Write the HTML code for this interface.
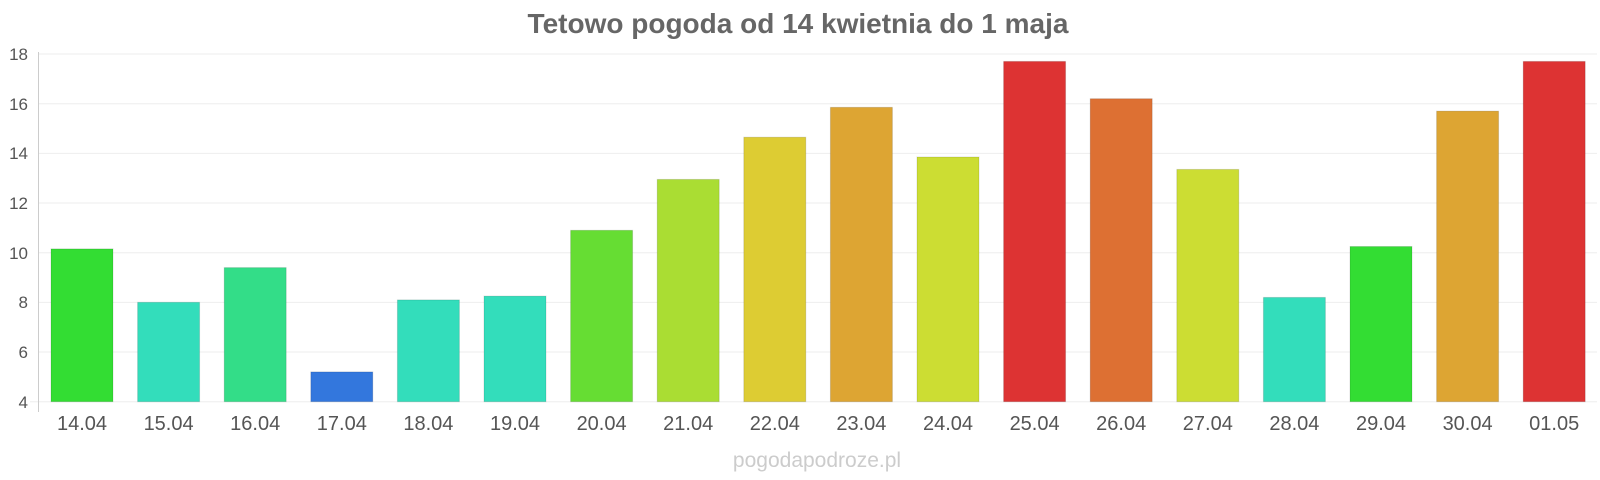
<!DOCTYPE html>
<html><head><meta charset="utf-8"><style>
html,body{margin:0;padding:0;background:#fff;width:1600px;height:480px;overflow:hidden}
svg{display:block;font-family:"Liberation Sans",sans-serif}
</style></head><body>
<svg width="1600" height="480" viewBox="0 0 1600 480">
<text x="798" y="33" text-anchor="middle" font-size="28" font-weight="bold" fill="#666">Tetowo pogoda od 14 kwietnia do 1 maja</text>
<g stroke="#eee" stroke-width="1">
<line x1="38" x2="1597" y1="54" y2="54"/>
<line x1="38" x2="1597" y1="103.7" y2="103.7"/>
<line x1="38" x2="1597" y1="153.4" y2="153.4"/>
<line x1="38" x2="1597" y1="203" y2="203"/>
<line x1="38" x2="1597" y1="252.7" y2="252.7"/>
<line x1="38" x2="1597" y1="302.4" y2="302.4"/>
<line x1="38" x2="1597" y1="352" y2="352"/>
<line x1="30" x2="1597" y1="401.7" y2="401.7"/>
</g>
<line x1="38.5" x2="38.5" y1="52" y2="412" stroke="#ccc"/>
<g font-size="17" fill="#555" text-anchor="end">
<text x="28" y="60">18</text><text x="28" y="110">16</text><text x="28" y="159">14</text><text x="28" y="209">12</text><text x="28" y="259">10</text><text x="28" y="308">8</text><text x="28" y="358">6</text><text x="28" y="408">4</text>
</g>
<g stroke="rgba(0,0,0,0.12)" stroke-width="1">
<rect x="51" y="248.9" width="62" height="152.8" fill="#33dd33"/>
<rect x="137.6" y="302.3" width="62" height="99.4" fill="#33ddbb"/>
<rect x="224.2" y="267.6" width="62" height="134.1" fill="#33dd88"/>
<rect x="310.8" y="371.9" width="62" height="29.8" fill="#3377dd"/>
<rect x="397.4" y="299.9" width="62" height="101.8" fill="#33ddbb"/>
<rect x="484" y="296.1" width="62" height="105.6" fill="#33ddbb"/>
<rect x="570.6" y="230.3" width="62" height="171.4" fill="#66dd33"/>
<rect x="657.2" y="179.4" width="62" height="222.3" fill="#aadd33"/>
<rect x="743.8" y="137.2" width="62" height="264.5" fill="#ddcc33"/>
<rect x="830.4" y="107.3" width="62" height="294.4" fill="#dda533"/>
<rect x="917" y="157" width="62" height="244.7" fill="#ccdd33"/>
<rect x="1003.6" y="61.4" width="62" height="340.3" fill="#dd3333"/>
<rect x="1090.2" y="98.7" width="62" height="303" fill="#dd7033"/>
<rect x="1176.8" y="169.4" width="62" height="232.3" fill="#ccdd33"/>
<rect x="1263.4" y="297.4" width="62" height="104.3" fill="#33ddbb"/>
<rect x="1350" y="246.5" width="62" height="155.2" fill="#33dd33"/>
<rect x="1436.6" y="111.1" width="62" height="290.6" fill="#dda533"/>
<rect x="1523.2" y="61.4" width="62" height="340.3" fill="#dd3333"/>
</g>
<g font-size="20" fill="#555" text-anchor="middle">
<text x="82" y="430">14.04</text>
<text x="168.6" y="430">15.04</text>
<text x="255.2" y="430">16.04</text>
<text x="341.8" y="430">17.04</text>
<text x="428.4" y="430">18.04</text>
<text x="515" y="430">19.04</text>
<text x="601.6" y="430">20.04</text>
<text x="688.2" y="430">21.04</text>
<text x="774.8" y="430">22.04</text>
<text x="861.4" y="430">23.04</text>
<text x="948" y="430">24.04</text>
<text x="1034.6" y="430">25.04</text>
<text x="1121.2" y="430">26.04</text>
<text x="1207.8" y="430">27.04</text>
<text x="1294.4" y="430">28.04</text>
<text x="1381" y="430">29.04</text>
<text x="1467.6" y="430">30.04</text>
<text x="1554.2" y="430">01.05</text>
</g>
<text x="817" y="467" text-anchor="middle" font-size="21" fill="#ccc">pogodapodroze.pl</text>
</svg>
</body></html>
